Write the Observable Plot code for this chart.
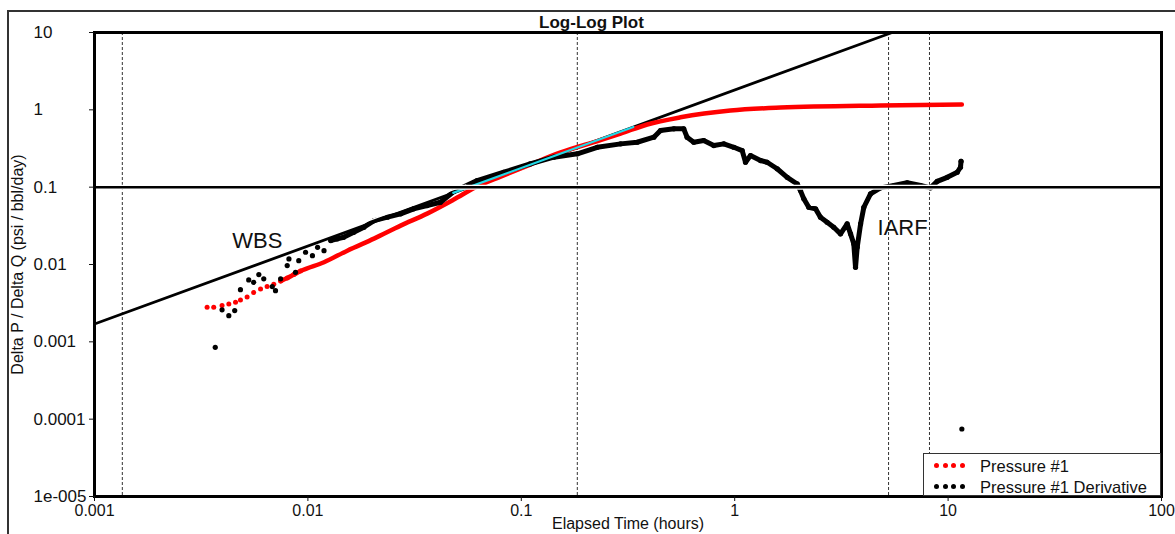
<!DOCTYPE html>
<html>
<head>
<meta charset="utf-8">
<script src="https://cdn.jsdelivr.net/npm/d3@7"></script>
<script src="https://cdn.jsdelivr.net/npm/@observablehq/plot@0.6"></script>
<style>
  html, body { margin: 0; padding: 0; background: #fff; overflow: hidden; width: 1175px; height: 534px; }
  body { position: relative; font-family: 'Liberation Sans', Arial, sans-serif; }
  #chart { position: absolute; left: 0; top: 0; }
  #outer { position: absolute; left: 7px; top: 10px; width: 2000px; height: 2000px; border: 2px solid #333; pointer-events: none; }
  #title { position: absolute; left: 0; width: 1183px; top: 14px; text-align: center; font-weight: bold; font-size: 17px; line-height: 17px; color: #111; }
  #legend { position: absolute; left: 923px; top: 453px; width: 238px; height: 43px; box-sizing: border-box; border: 1px solid #333; background: #fff; font-size: 16.5px; color: #111; }
  .row { position: absolute; left: 0; height: 20px; width: 100%; }
  .sw { position: absolute; width: 5px; height: 5px; border-radius: 50%; top: 7px; }
  .lab { position: absolute; left: 56px; top: 0; line-height: 20px; white-space: nowrap; }
</style>
</head>
<body>
<div id="chart"></div>
<div id="outer"></div>
<div id="title"></div>
<div id="legend"></div>
<script>
// ---- data ----
const chartTitle = "Log-Log Plot";
const xLabel = "Elapsed Time (hours)";
const yLabel = "Delta P / Delta Q (psi / bbl/day)";
const seriesNames = ["Pressure #1", "Pressure #1 Derivative"];
const seriesColors = ["#ff0000", "#000000"];

const xTicks = [0.001, 0.01, 0.1, 1, 10, 100];
const xTickLabels = ["0.001", "0.01", "0.1", "1", "10", "100"];
const yTicks = [1e-5, 1e-4, 1e-3, 1e-2, 1e-1, 1, 10];
const yTickLabels = ["1e-005", "0.0001", "0.001", "0.01", "0.1", "1", "10"];

const dashedTimes = [0.00135, 0.183, 5.26, 8.18];
const iarfLevel = [0.1];

// Pressure #1
const presT = [0.00337, 0.00362, 0.00396, 0.00426, 0.00458, 0.00483, 0.00519, 0.00557, 0.00600, 0.00644, 0.00692, 0.00745, 0.00800, 0.00859, 0.00923, 0.0119, 0.0153, 0.0204, 0.0272, 0.0362, 0.0483, 0.0621, 0.0800, 0.110, 0.153, 0.235, 0.292, 0.389, 0.557, 0.955, 1.64, 4.82, 11.6];
const presV = [0.00279, 0.00279, 0.00294, 0.00309, 0.00326, 0.00348, 0.00379, 0.00433, 0.00481, 0.00518, 0.00557, 0.00610, 0.00667, 0.00740, 0.00822, 0.0107, 0.0151, 0.0216, 0.0318, 0.0455, 0.0692, 0.102, 0.137, 0.196, 0.281, 0.406, 0.493, 0.646, 0.80, 0.98, 1.07, 1.14, 1.17];

// Pressure #1 Derivative
const derivT = [0.00368, 0.00396, 0.00426, 0.00454, 0.00483, 0.00528, 0.00557, 0.00589, 0.00621, 0.00681, 0.00705, 0.00745, 0.0080, 0.00815, 0.00875, 0.00906, 0.00975, 0.0105, 0.0111, 0.0119, 0.0128, 0.0137, 0.0147, 0.0164, 0.0183, 0.0204, 0.0236, 0.0272, 0.0313, 0.0362, 0.0418, 0.0483, 0.0621, 0.0828, 0.110, 0.142, 0.183, 0.227, 0.292, 0.349, 0.418, 0.449, 0.519, 0.577, 0.598, 0.643, 0.716, 0.798, 0.889, 0.991, 1.084, 1.124, 1.186, 1.321, 1.419, 1.581, 1.762, 1.963, 2.033, 2.108, 2.223, 2.393, 2.523, 2.711, 2.911, 3.133, 3.365, 3.490, 3.614, 3.683, 3.750, 3.890, 4.029, 4.329, 4.82, 5.57, 6.43, 7.43, 8.26, 8.89, 9.91, 11.04, 11.43, 11.5, 11.6];
const derivV = [0.00085, 0.00259, 0.00218, 0.00254, 0.00473, 0.00632, 0.00589, 0.00740, 0.00652, 0.00518, 0.00459, 0.00652, 0.00968, 0.0118, 0.00793, 0.0112, 0.0144, 0.0130, 0.0167, 0.0151, 0.0204, 0.0214, 0.0225, 0.0261, 0.0303, 0.0370, 0.0409, 0.0452, 0.0524, 0.0578, 0.0638, 0.088, 0.1216, 0.156, 0.200, 0.244, 0.270, 0.328, 0.363, 0.381, 0.443, 0.540, 0.568, 0.568, 0.443, 0.381, 0.401, 0.345, 0.363, 0.328, 0.297, 0.210, 0.256, 0.221, 0.210, 0.173, 0.134, 0.110, 0.0903, 0.0706, 0.0550, 0.0524, 0.0409, 0.0352, 0.0303, 0.0249, 0.0335, 0.0249, 0.0185, 0.0092, 0.0167, 0.0335, 0.0550, 0.0818, 0.0980, 0.105, 0.114, 0.105, 0.098, 0.119, 0.134, 0.156, 0.181, 0.216, 0.0000746];

// unit-slope (wellbore storage) line
const unitT = [0.001, 5.47];
const unitV = [0.0017, 10];
// highlighted fit segment (cyan) and thin white guide
const cyanT = [0.048, 0.335];
const cyanV = [0.0843, 0.60];
const whiteT = [0.012, 0.055];
const whiteV = [0.0229, 0.106];

const annoText = ["WBS", "IARF"];
const annoT = [0.00442, 4.67];
const annoV = [0.0204, 0.030];

// ---- build ----
const zip = (T, V) => T.map((t, i) => ({t, v: V[i]}));
const pres = zip(presT, presV);
const deriv = zip(derivT, derivV);
const unitLine = zip(unitT, unitV);
const cyanLine = zip(cyanT, cyanV);
const whiteLine = zip(whiteT, whiteV);
const annos = annoText.map((s, i) => ({s, t: annoT[i], v: annoV[i]}));

const plot = Plot.plot({
  width: 1175, height: 534,
  marginLeft: 94, marginRight: 14, marginTop: 32, marginBottom: 38,
  style: {fontFamily: "'Liberation Sans', Arial, sans-serif", fontSize: "16px", color: "#111", background: "transparent"},
  x: {type: "log", domain: [0.001, 100], label: null},
  y: {type: "log", domain: [1e-5, 10], label: null},
  marks: [
    Plot.ruleX(dashedTimes, {stroke: "#333", strokeWidth: 1, strokeDasharray: "3,2"}),
    Plot.line(unitLine, {x: "t", y: "v", stroke: "#000", strokeWidth: 2.8}),
    Plot.line(pres.slice(11), {x: "t", y: "v", stroke: seriesColors[0], strokeWidth: 4.5, curve: "monotone-x"}),
    Plot.dot(pres.slice(0, 15), {x: "t", y: "v", r: 2.5, fill: seriesColors[0]}),
    Plot.line(deriv.slice(20, 84), {x: "t", y: "v", stroke: seriesColors[1], strokeWidth: 5, strokeLinejoin: "round"}),
    Plot.dot(deriv, {x: "t", y: "v", r: 2.6, fill: seriesColors[1]}),
    Plot.line(whiteLine, {x: "t", y: "v", stroke: "#fff", strokeWidth: 1.3}),
    Plot.line(cyanLine, {x: "t", y: "v", stroke: "#22d8e6", strokeWidth: 2.2}),
    Plot.ruleY(iarfLevel, {stroke: "#fff", strokeWidth: 5}),
    Plot.ruleY(iarfLevel, {stroke: "#000", strokeWidth: 2.5}),
    Plot.text(annos, {x: "t", y: "v", text: "s", textAnchor: "start", fontSize: 22, fill: "#111"}),
    Plot.text([yLabel], {text: d => d, frameAnchor: "left", textAnchor: "middle", dx: -77, rotate: -90, fontSize: 16, fill: "#111"}),
    Plot.text([xLabel], {text: d => d, frameAnchor: "bottom", dy: 32, fontSize: 16, fill: "#111"}),
    Plot.frame({stroke: "#000", strokeWidth: 3}),
    Plot.axisX({ticks: xTicks, tickFormat: d => xTickLabels[xTicks.indexOf(d)], tickSize: 5, tickPadding: 3, fontSize: 16, label: null}),
    Plot.axisY({ticks: yTicks, tickFormat: d => yTickLabels[yTicks.indexOf(d)], tickSize: 5, tickPadding: 56, textAnchor: "start", fontSize: 17, label: null})
  ]
});
document.getElementById("chart").appendChild(plot);
document.getElementById("title").textContent = chartTitle;

const legend = document.getElementById("legend");
seriesNames.forEach((name, i) => {
  const row = document.createElement("div");
  row.className = "row";
  row.style.top = (i === 0 ? 2 : 23) + "px";
  for (let k = 0; k < 4; k++) {
    const s = document.createElement("span");
    s.className = "sw";
    s.style.left = (10 + k * 8.5) + "px";
    s.style.background = seriesColors[i];
    row.appendChild(s);
  }
  const l = document.createElement("span");
  l.className = "lab";
  l.textContent = name;
  row.appendChild(l);
  legend.appendChild(row);
});
</script>
</body>
</html>
